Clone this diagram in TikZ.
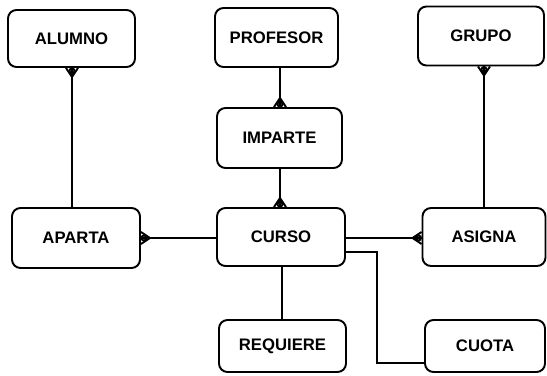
\documentclass[tikz,border=0pt]{standalone}
\usepackage{fontspec}
\setmainfont{Liberation Sans}
\begin{document}
\begin{tikzpicture}[x=0.02cm,y=-0.02cm,
  entity/.style={draw,line width=1.1pt,rounded corners=0.17cm,
    minimum width=#1*0.02cm,inner sep=0pt,
    font=\bfseries\fontsize{9.5}{11}\selectfont},
  link/.style={line width=1.1pt},
  foot/.style={line width=1.1pt}]
\useasboundingbox (0,0) rectangle (547,375);

% entities
\node[entity=127,minimum height=1.14cm] (alumno)   at (71.5,38.5) {ALUMNO};
\node[entity=123,minimum height=1.18cm] (profesor) at (276.5,37.5) {PROFESOR};
\node[entity=126,minimum height=1.18cm] (grupo)    at (481,36)   {GRUPO};
\node[entity=125,minimum height=1.20cm] (imparte)  at (279.5,138) {IMPARTE};
\node[entity=128,minimum height=1.20cm] (aparta)   at (76,238)   {APARTA};
\node[entity=128,minimum height=1.16cm] (curso)    at (281,237)  {CURSO};
\node[entity=123,minimum height=1.16cm] (asigna)   at (484,237)  {ASIGNA};
\node[entity=127,minimum height=1.04cm] (requiere) at (282.5,346) {REQUIERE};
\node[entity=120,minimum height=1.04cm] (cuota)    at (485,346)  {CUOTA};

% end points of the relationship lines
\coordinate (a1) at (alumno.south -| 72,0);
\coordinate (a2) at (aparta.north -| 72,0);
\coordinate (p1) at (profesor.south -| 280,0);
\coordinate (p2) at (imparte.north -| 280,0);
\coordinate (i1) at (imparte.south -| 280,0);
\coordinate (i2) at (curso.north -| 280,0);
\coordinate (g1) at (grupo.south -| 484,0);
\coordinate (g2) at (asigna.north -| 484,0);
\coordinate (r1) at (curso.south -| 282,0);
\coordinate (r2) at (requiere.north -| 282,0);
\coordinate (h1) at (aparta.east |- 0,238);
\coordinate (h2) at (curso.west |- 0,238);
\coordinate (s1) at (curso.east |- 0,238);
\coordinate (s2) at (asigna.west |- 0,238);

% relationships
\draw[link] (a1) -- (a2);
\draw[link] (p1) -- (p2);
\draw[link] (i1) -- (i2);
\draw[link] (g1) -- (g2);
\draw[link] (r1) -- (r2);
\draw[link] (h1) -- (h2);
\draw[link] (s1) -- (s2);
\coordinate (cturn) at (377,252);
\draw[link] (curso.east |- cturn) -- (cturn) -- (cturn |- 0,363) -- (cuota.west |- 0,363);

% crow's feet at the "many" ends
\foreach \p/\dx/\dy in {a1/0/1, p2/0/-1, i2/0/-1, g1/0/1, h1/1/0, s2/-1/0}{
  \draw[foot] (\p) ++(9*\dx,9*\dy) -- ++(-9*\dx-6*\dy,-9*\dy-6*\dx)
              (\p) ++(9*\dx,9*\dy) -- ++(-9*\dx+6*\dy,-9*\dy+6*\dx)
              (\p) ++(9*\dx,9*\dy) -- (\p);
  \draw[foot] (\p) ++(3*\dx,3*\dy) circle[radius=0.05cm];
}
\end{tikzpicture}
\end{document}
